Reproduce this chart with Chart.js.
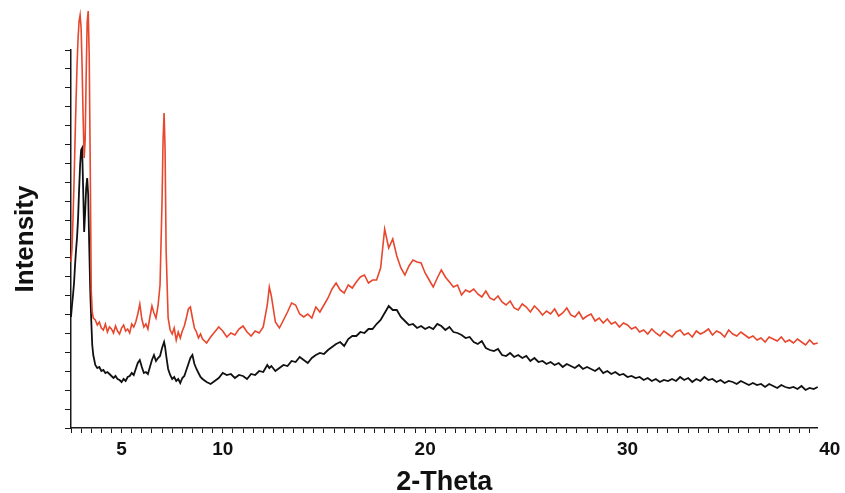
<!DOCTYPE html>
<html lang="en">
<head>
<meta charset="UTF-8">
<title>XRD pattern</title>
<script src="https://cdn.jsdelivr.net/npm/chart.js@4.4.1/dist/chart.umd.min.js"></script>
<style>
  html, body { margin: 0; padding: 0; background: #fff; }
  #xrd { display: block; }
</style>
</head>
<body>
<canvas id="xrd" width="845" height="493"></canvas>

<script>
// 2-theta sampling (degrees); finer near the low-angle peaks
const twoTheta = [
  2.5, 2.55, 2.6, 2.65, 2.7, 2.75, 2.8, 2.85, 2.9, 2.95, 3.0, 3.05, 3.1, 3.15, 3.2, 3.25, 3.3, 3.35, 3.4, 3.45, 3.5, 3.55, 3.6,
  3.7, 3.8, 3.9, 4.0, 4.1, 4.2, 4.3, 4.4, 4.5, 4.6, 4.7, 4.8, 4.9, 5.0, 5.1, 5.2, 5.3, 5.4, 5.5, 5.6, 5.7, 5.8, 5.9, 6.0, 6.1, 6.2, 6.3, 6.4, 6.5, 6.6, 6.7, 6.8, 6.9, 7.0,
  7.05, 7.1, 7.15, 7.2, 7.3, 7.4, 7.5, 7.6, 7.7, 7.8, 7.9, 8.0, 8.1, 8.2, 8.3, 8.4, 8.5, 8.6, 8.7, 8.8, 8.9, 9.0,
  9.2, 9.4, 9.6, 9.8, 10.0, 10.2, 10.4, 10.6, 10.8, 11.0, 11.2, 11.4, 11.6, 11.8, 12.0, 12.2, 12.3, 12.4,
  12.6, 12.8, 13.0, 13.2, 13.4, 13.6, 13.8, 14.0, 14.2, 14.4, 14.6, 14.8, 15.0, 15.2, 15.4, 15.6, 15.8, 16.0, 16.2, 16.4,
  16.6, 16.8, 17.0, 17.2, 17.4, 17.6, 17.8, 18.0, 18.2, 18.4, 18.6, 18.8, 19.0, 19.2, 19.4, 19.6, 19.8, 20.0,
  20.2, 20.4, 20.6, 20.8, 21.0, 21.2, 21.4, 21.6, 21.8, 22.0, 22.2, 22.4, 22.6, 22.8, 23.0, 23.2, 23.4, 23.6, 23.8, 24.0,
  24.2, 24.4, 24.6, 24.8, 25.0, 25.2, 25.4, 25.6, 25.8, 26.0, 26.2, 26.4, 26.6, 26.8, 27.0, 27.2, 27.4, 27.6, 27.8, 28.0,
  28.2, 28.4, 28.6, 28.8, 29.0, 29.2, 29.4, 29.6, 29.8, 30.0,
  30.2, 30.4, 30.6, 30.8, 31.0, 31.2, 31.4, 31.6, 31.8, 32.0, 32.2, 32.4, 32.6, 32.8, 33.0, 33.2, 33.4, 33.6, 33.8, 34.0,
  34.2, 34.4, 34.6, 34.8, 35.0, 35.2, 35.4, 35.6, 35.8, 36.0, 36.2, 36.4, 36.6, 36.8, 37.0, 37.2, 37.4, 37.6, 37.8, 38.0,
  38.2, 38.4, 38.6, 38.8, 39.0, 39.2, 39.4
];

// upper (red) pattern, arbitrary units
const redIntensity = [
  166, 180, 210, 246, 288, 328, 363, 390, 407, 413, 400, 360, 310, 270, 288, 353, 406, 417, 373, 263, 138, 116, 110,
  108, 103, 106, 100, 98, 104, 96, 101, 99, 95, 102, 97, 94, 100, 103, 97, 99, 95, 104, 101, 106, 114, 124, 109, 101, 104, 99, 111, 122, 115, 110, 122, 143, 228,
  288, 315, 278, 178, 110, 98, 94, 100, 88, 96, 90, 97, 102, 110, 119, 121, 110, 100, 96, 90, 94, 89,
  85, 91, 96, 101, 97, 91, 95, 93, 99, 102, 96, 92, 97, 95, 101, 123, 141, 132,
  106, 100, 108, 116, 125, 123, 114, 111, 114, 110, 121, 116, 123, 130, 139, 145, 138, 135, 143, 140,
  146, 151, 153, 145, 148, 148, 160, 199, 180, 189, 172, 160, 153, 162, 168, 166, 165, 155,
  148, 141, 150, 158, 151, 146, 141, 143, 133, 138, 136, 139, 134, 131, 137, 130, 128, 132, 126, 123,
  127, 120, 118, 124, 121, 116, 122, 118, 113, 117, 114, 119, 112, 115, 120, 113, 111, 116, 109, 112,
  114, 107, 110, 105, 109, 104, 106, 101, 105, 103,
  99, 101, 96, 98, 94, 99, 95, 92, 97, 94, 91, 96, 98, 93, 95, 91, 97, 94, 96, 99,
  93, 97, 95, 91, 98, 94, 92, 96, 93, 90, 92, 88, 90, 86, 91, 89, 87, 91, 86, 88,
  85, 89, 86, 83, 88, 84, 85
];

// lower (black) pattern, arbitrary units
const blackIntensity = [
  111, 123, 133, 145, 163, 178, 191, 210, 238, 263, 278, 280, 240, 196, 216, 240, 250, 233, 183, 138, 108, 83, 73,
  63, 60, 61, 57, 58, 55, 56, 54, 52, 50, 52, 49, 48, 46, 49, 47, 51, 52, 55, 53, 59, 65, 68, 61, 55, 56, 54, 61, 68, 73, 67, 70, 72, 80,
  83, 86, 81, 73, 59, 53, 49, 51, 47, 49, 45, 50, 52, 58, 64, 70, 73, 64, 59, 55, 51, 49,
  46, 44, 47, 50, 55, 53, 54, 50, 53, 52, 49, 54, 53, 57, 56, 63, 60, 62,
  57, 60, 63, 62, 67, 66, 71, 68, 65, 70, 73, 75, 74, 78, 81, 84, 86, 82, 89, 92,
  92, 96, 95, 99, 99, 104, 108, 115, 122, 118, 118, 111, 107, 103, 104, 100, 102, 99,
  101, 99, 104, 102, 98, 101, 96, 95, 93, 90, 91, 86, 84, 87, 80, 78, 77, 79, 73, 72,
  75, 71, 73, 70, 72, 67, 70, 66, 67, 64, 66, 63, 65, 61, 64, 62, 60, 63, 59, 61,
  59, 57, 60, 55, 57, 54, 56, 53, 54, 51,
  52, 50, 51, 48, 50, 47, 49, 46, 48, 47, 49, 47, 51, 48, 50, 46, 49, 47, 51, 48,
  49, 46, 48, 45, 47, 46, 44, 47, 45, 43, 45, 43, 44, 41, 44, 42, 40, 43, 41, 40,
  41, 39, 42, 38, 40, 39, 41
];

const xLabelled = [5, 10, 20, 30, 40];
const xMin = 2.5, xMax = 39.4, xMinorStep = 0.5;
const yMax = 378, yTickCount = 40;

function toPoints(ys) {
  return twoTheta.map((t, i) => ({ x: t, y: ys[i] }));
}

const axisColor = '#1a1a1a';

new Chart(document.getElementById('xrd'), {
  type: 'line',
  data: {
    datasets: [
      {
        label: 'red',
        data: toPoints(redIntensity),
        borderColor: '#e8472d',
        borderWidth: 1.6,
        pointRadius: 0,
        clip: false
      },
      {
        label: 'black',
        data: toPoints(blackIntensity),
        borderColor: '#111111',
        borderWidth: 1.8,
        pointRadius: 0,
        clip: false
      }
    ]
  },
  options: {
    responsive: false,
    animation: false,
    devicePixelRatio: 1,
    layout: { padding: { top: 50, right: 26, left: 0, bottom: 0 } },
    plugins: { legend: { display: false }, tooltip: { enabled: false } },
    scales: {
      x: {
        type: 'linear',
        min: xMin,
        max: xMax,
        afterBuildTicks: (scale) => {
          const ticks = [];
          for (let v = xMin; v <= xMax + 1e-6; v += xMinorStep) ticks.push({ value: Math.round(v * 10) / 10 });
          ticks.push({ value: 40 });
          scale.ticks = ticks;
        },
        afterFit: (scale) => { scale.height = 65; },
        ticks: {
          autoSkip: false,
          maxRotation: 0,
          padding: 5,
          color: '#111',
          font: { family: 'Liberation Sans', size: 19, weight: 'bold' },
          callback: (v) => xLabelled.includes(v) ? String(v) : ''
        },
        grid: {
          drawOnChartArea: false,
          drawTicks: true,
          tickLength: 5,
          color: (ctx) => (ctx.tick && ctx.tick.value > xMax) ? 'rgba(0,0,0,0)' : axisColor
        },
        border: { display: true, color: axisColor, width: 1.5 },
        title: {
          display: true,
          text: '2-Theta',
          color: '#111',
          padding: 0,
          font: { family: 'Liberation Sans', size: 27, weight: 'bold', lineHeight: 0.8 }
        }
      },
      y: {
        min: 0,
        max: yMax,
        afterBuildTicks: (scale) => {
          const ticks = [];
          for (let i = 0; i <= yTickCount; i++) ticks.push({ value: i * yMax / yTickCount });
          scale.ticks = ticks;
        },
        afterFit: (scale) => { scale.width = 71; },
        ticks: { callback: () => '' },
        grid: {
          drawOnChartArea: false,
          drawTicks: true,
          tickLength: 6,
          color: axisColor
        },
        border: { display: true, color: axisColor, width: 1.5 },
        title: {
          display: true,
          text: 'Intensity',
          color: '#111',
          padding: { top: 10, bottom: 0 },
          font: { family: 'Liberation Sans', size: 26, weight: 'bold' }
        }
      }
    }
  }
});
</script>
</body>
</html>
